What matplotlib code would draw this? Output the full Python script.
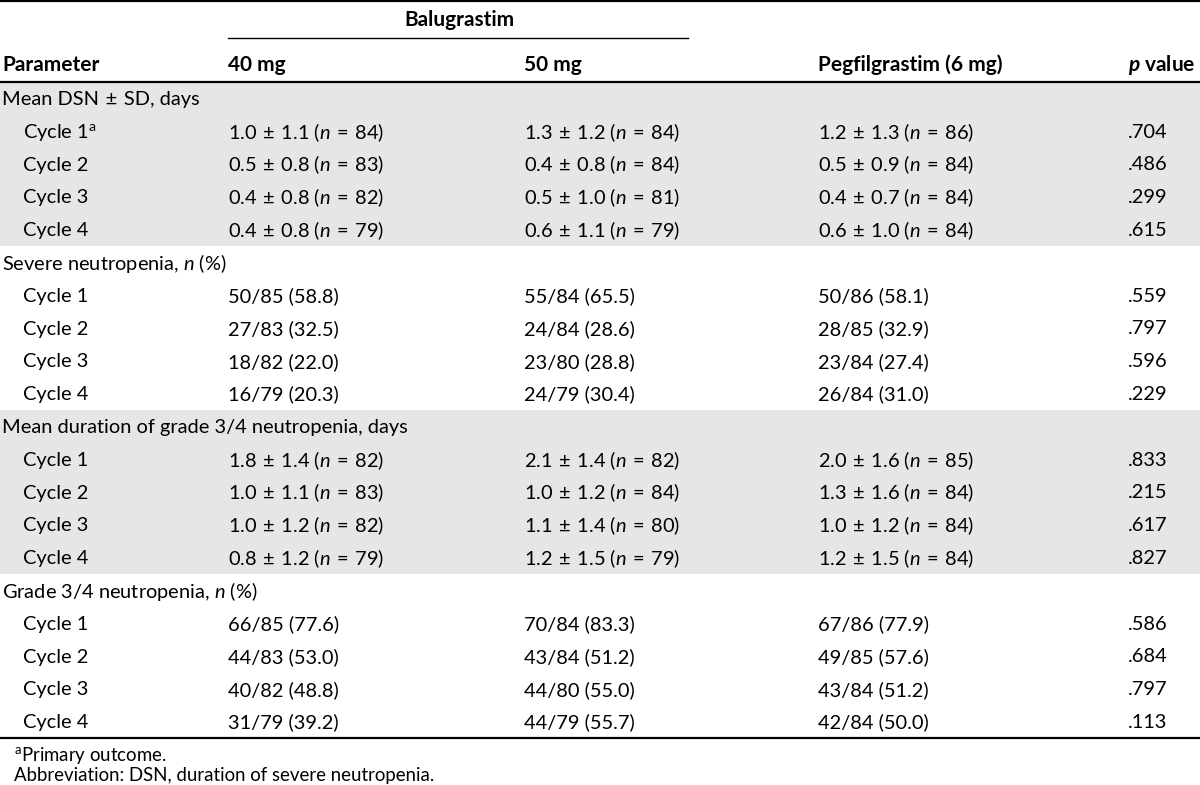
import matplotlib
matplotlib.use('Agg')
import matplotlib.pyplot as plt

plt.rcParams['font.family'] = ['Lato', 'DejaVu Sans']
plt.rcParams['mathtext.fontset'] = 'custom'
plt.rcParams['mathtext.rm'] = 'Lato'
plt.rcParams['mathtext.it'] = 'Lato:italic'
plt.rcParams['mathtext.bf'] = 'Lato:bold'
plt.rcParams['mathtext.bfit'] = 'Lato:italic:bold'

SP = '\u2004'  # slightly wider space around ± and =

# column headers
group_header = 'Balugrastim'
col_headers = ['Parameter', '40 mg', '50 mg', 'Pegfilgrastim (6 mg)', r'$\mathbfit{p}$ value']

# sections: title + four cycle rows each
sections = [
    'Mean DSN ± SD, days',
    r'Severe neutropenia, $n$ (%)',
    'Mean duration of grade 3/4 neutropenia, days',
    r'Grade 3/4 neutropenia, $n$ (%)',
]
cycles = [r'Cycle 1$^{\mathrm{a}}$', 'Cycle 2', 'Cycle 3', 'Cycle 4',
          'Cycle 1', 'Cycle 2', 'Cycle 3', 'Cycle 4',
          'Cycle 1', 'Cycle 2', 'Cycle 3', 'Cycle 4',
          'Cycle 1', 'Cycle 2', 'Cycle 3', 'Cycle 4']

# mean, SD, n  /  count, total, percent
bal40 = [('1.0', '1.1', 84), ('0.5', '0.8', 83), ('0.4', '0.8', 82), ('0.4', '0.8', 79),
         '50/85 (58.8)', '27/83 (32.5)', '18/82 (22.0)', '16/79 (20.3)',
         ('1.8', '1.4', 82), ('1.0', '1.1', 83), ('1.0', '1.2', 82), ('0.8', '1.2', 79),
         '66/85 (77.6)', '44/83 (53.0)', '40/82 (48.8)', '31/79 (39.2)']
bal50 = [('1.3', '1.2', 84), ('0.4', '0.8', 84), ('0.5', '1.0', 81), ('0.6', '1.1', 79),
         '55/84 (65.5)', '24/84 (28.6)', '23/80 (28.8)', '24/79 (30.4)',
         ('2.1', '1.4', 82), ('1.0', '1.2', 84), ('1.1', '1.4', 80), ('1.2', '1.5', 79),
         '70/84 (83.3)', '43/84 (51.2)', '44/80 (55.0)', '44/79 (55.7)']
peg6 = [('1.2', '1.3', 86), ('0.5', '0.9', 84), ('0.4', '0.7', 84), ('0.6', '1.0', 84),
        '50/86 (58.1)', '28/85 (32.9)', '23/84 (27.4)', '26/84 (31.0)',
        ('2.0', '1.6', 85), ('1.3', '1.6', 84), ('1.0', '1.2', 84), ('1.2', '1.5', 84),
        '67/86 (77.9)', '49/85 (57.6)', '43/84 (51.2)', '42/84 (50.0)']
pvals = ['.704', '.486', '.299', '.615',
         '.559', '.797', '.596', '.229',
         '.833', '.215', '.617', '.827',
         '.586', '.684', '.797', '.113']

footnotes = [r'$^{\mathrm{a}}$Primary outcome.', 'Abbreviation: DSN, duration of severe neutropenia.']


def cell(v):
    if isinstance(v, tuple):
        m, sd, n = v
        return f'{m}{SP}±{SP}{sd} ($n${SP}={SP}{n})'
    return v


W, H = 1200, 785
fig = plt.figure(figsize=(12, 7.85), dpi=100)
ax = fig.add_axes([0, 0, 1, 1])
ax.set_xlim(0, W)
ax.set_ylim(H, 0)
ax.axis('off')

col_x = [2, 228, 524, 818, 1128]
fs = 14.4
fs_head = 15
top = 82
rowh = 32.8
gray = '#e6e6e6'

# rules and group header
ax.axhline(1, color='black', lw=1.6)
ax.text(459, 20, group_header, ha='center', va='center', fontsize=fs_head, fontweight='bold')
ax.plot([228, 688], [38, 38], color='black', lw=1.0)
for x, h in zip(col_x, col_headers):
    ax.text(x, 65, h, ha='left', va='center', fontsize=fs_head, fontweight='bold')
ax.axhline(top, color='black', lw=1.6)

r = 0
for s, title in enumerate(sections):
    y0 = top + s * 5 * rowh
    if s % 2 == 0:
        ax.axhspan(y0, y0 + 5 * rowh, color=gray, lw=0, zorder=0)
    ax.text(col_x[0], y0 + rowh / 2 + 1, title.replace(' ± ', f'{SP}±{SP}'),
            ha='left', va='center', fontsize=fs)
    for k in range(4):
        y = y0 + (k + 1.5) * rowh + 1
        ax.text(23, y, cycles[r], ha='left', va='center', fontsize=fs)
        ax.text(col_x[1], y, cell(bal40[r]), ha='left', va='center', fontsize=fs)
        ax.text(col_x[2], y, cell(bal50[r]), ha='left', va='center', fontsize=fs)
        ax.text(col_x[3], y, cell(peg6[r]), ha='left', va='center', fontsize=fs)
        ax.text(col_x[4], y, pvals[r], ha='left', va='center', fontsize=fs)
        r += 1

bottom = top + 20 * rowh
ax.axhline(bottom, color='black', lw=1.6)
ax.text(14, bottom + 17, footnotes[0], ha='left', va='center', fontsize=fs - 1)
ax.text(14, bottom + 37, footnotes[1], ha='left', va='center', fontsize=fs - 1)

fig.savefig('out.png', dpi=100)
